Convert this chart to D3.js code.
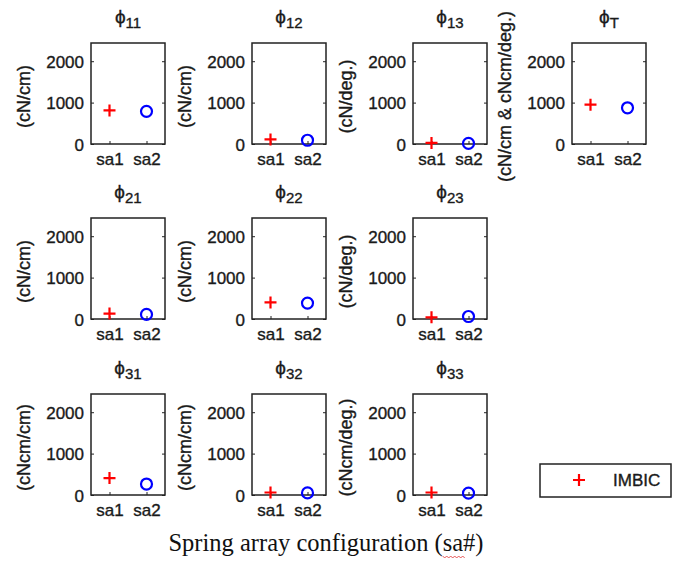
<!DOCTYPE html>
<html><head><meta charset="utf-8">
<script src="https://cdn.jsdelivr.net/npm/d3@7"></script>
<style>
body{margin:0;background:#fff;}
text{font-family:"Liberation Sans",Arial,sans-serif;fill:#1a1a1a;}
.heavy{stroke:#1a1a1a;stroke-width:0.35px;}
</style></head>
<body>
<svg id="c" width="695" height="561"></svg>
<script>
// ---- data ----
const categories = ["sa1", "sa2"];
const panelSubs = ["11", "12", "13", "T", "21", "22", "23", "31", "32", "33"];
const panelRows = [0, 0, 0, 0, 1, 1, 1, 2, 2, 2];
const panelCols = [0, 1, 2, 3, 0, 1, 2, 0, 1, 2];
const yLabels = ["(cN/cm)", "(cN/cm)", "(cN/deg.)", "(cN/cm & cNcm/deg.)",
                 "(cN/cm)", "(cN/cm)", "(cN/deg.)",
                 "(cNcm/cm)", "(cNcm/cm)", "(cNcm/deg.)"];
const sa1Values = [810, 110, 25, 950, 130, 400, 40, 410, 60, 60];   // red +
const sa2Values = [790, 90, 15, 875, 110, 385, 60, 265, 50, 45];    // blue o
const yTicks = [0, 1000, 2000];
const yMax = 2440;
const legendLabel = "IMBIC";
const xAxisTitleParts = ["Spring array configuration (", "sa", "#)"];

// ---- layout ----
const colLeft = [91, 252, 413, 572];
const rowTop = [43, 218, 394];
const pw = 74, ph = 101;

const svg = d3.select("#c");

const x = d3.scalePoint().domain(categories).range([0, pw]).padding(0.5);
const y = d3.scaleLinear().domain([0, yMax]).range([ph, 0]);

panelSubs.forEach((sub, i) => {
  const g = svg.append("g")
    .attr("transform", `translate(${colLeft[panelCols[i]]},${rowTop[panelRows[i]]})`);

  // left axis
  const ya = g.append("g").call(d3.axisLeft(y).tickValues(yTicks).tickSize(-3).tickPadding(7).tickFormat(d3.format("d")));
  ya.select(".domain").remove();
  ya.selectAll("text").style("font-size", "17px").attr("dy", "0.36em").attr("class", "heavy");
  ya.selectAll("line").attr("stroke", "#222");
  // right axis ticks
  const yr = g.append("g").attr("transform", `translate(${pw},0)`)
    .call(d3.axisRight(y).tickValues(yTicks).tickSize(-3).tickFormat(""));
  yr.select(".domain").remove();
  yr.selectAll("line").attr("stroke", "#222");
  // bottom axis
  const xa = g.append("g").attr("transform", `translate(0,${ph})`)
    .call(d3.axisBottom(x).tickSize(-3).tickPadding(9));
  xa.select(".domain").remove();
  xa.selectAll("text").style("font-size", "17px").attr("class", "heavy");
  xa.selectAll("line").attr("stroke", "#222");

  // frame
  g.append("rect").attr("x", 0).attr("y", 0).attr("width", pw).attr("height", ph)
    .attr("fill", "none").attr("stroke", "#222").attr("stroke-width", 1.5);

  // title
  const t = g.append("text").attr("x", pw / 2).attr("y", -20).attr("text-anchor", "middle").attr("class", "heavy");
  t.append("tspan").text("ϕ").style("font-size", "19px");
  t.append("tspan").text(sub).attr("dy", 5).style("font-size", "15px");

  // y label
  g.append("text")
    .attr("transform", `translate(${-67},${ph / 2 + 3}) rotate(-90)`)
    .attr("text-anchor", "middle").attr("dy", "0.35em").attr("class", "heavy")
    .style("font-size", "18px").text(yLabels[i]);

  // markers
  const px = x(categories[0]), py = y(sa1Values[i]);
  g.append("path")
    .attr("d", `M${px - 6},${py}H${px + 6}M${px},${py - 6}V${py + 6}`)
    .attr("stroke", "#ff0000").attr("stroke-width", 2.2).attr("fill", "none");
  g.append("circle")
    .attr("cx", x(categories[1])).attr("cy", y(sa2Values[i])).attr("r", 5.5)
    .attr("stroke", "#0000ff").attr("stroke-width", 2.2).attr("fill", "none");
});

// legend
const lg = svg.append("g").attr("transform", "translate(540,464)");
lg.append("rect").attr("width", 131).attr("height", 33)
  .attr("fill", "#fff").attr("stroke", "#222").attr("stroke-width", 1.5);
lg.append("path").attr("d", "M33,16H45M39,10V22")
  .attr("stroke", "#ff0000").attr("stroke-width", 2.2);
lg.append("text").attr("x", 73).attr("y", 16).attr("dy", "0.36em").attr("class", "heavy")
  .style("font-size", "17px").text(legendLabel);

// x axis title
const xt = svg.append("text").attr("x", 326).attr("y", 551).attr("text-anchor", "middle")
  .style("font-family", "'Liberation Serif','Times New Roman',serif")
  .style("font-size", "24.5px").style("fill", "#111");
xAxisTitleParts.forEach(p => xt.append("tspan").text(p));
// spell-check style wavy underline under "sa"
const node = xt.node();
const start = xAxisTitleParts[0].length;
const s0 = node.getStartPositionOfChar(start).x;
const s1 = node.getEndPositionOfChar(start + 1).x;
let d = `M${s0},556`;
for (let xx = s0, k = 0; xx < s1; xx += 2, k++) d += `L${xx + 2},${k % 2 ? 556 : 558}`;
svg.append("path").attr("d", d).attr("fill", "none").attr("stroke", "#e03030").attr("stroke-width", 0.8);
</script>
</body></html>
